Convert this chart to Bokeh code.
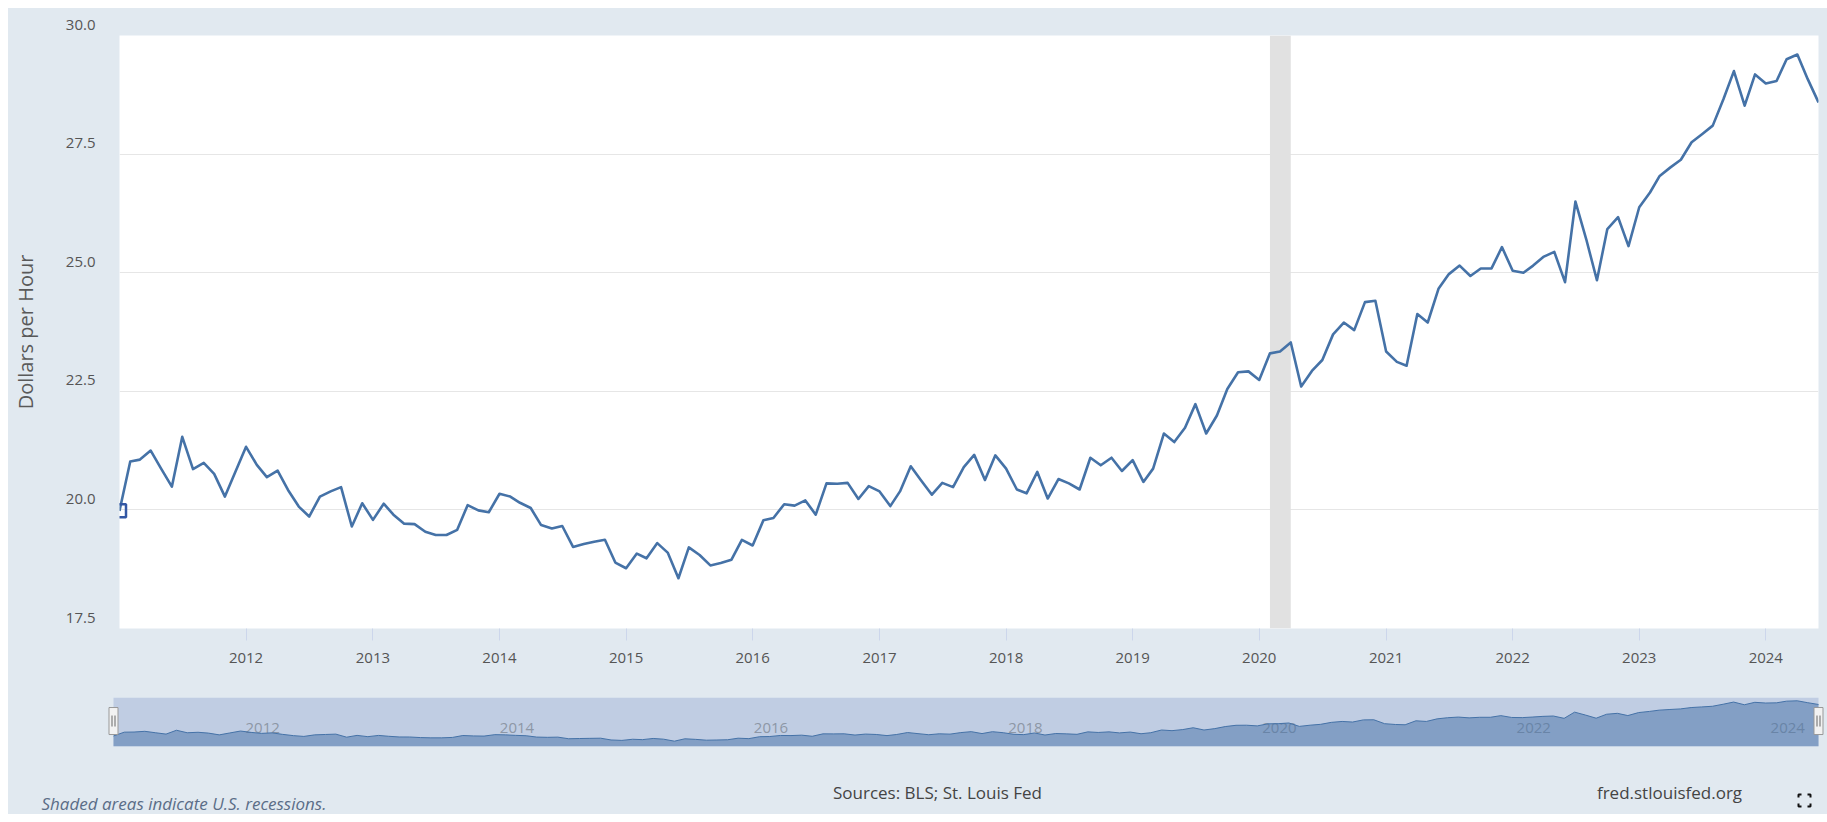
import math
import pandas as pd
from bokeh.plotting import figure
from bokeh.models import (Range1d, FixedTicker, DatetimeTickFormatter,
                          CustomJSTickFormatter)
from bokeh.layouts import column
from bokeh.embed import file_html
from bokeh.resources import INLINE
from bokeh.core.properties import value

# ---------------- data ----------------
series_start = "2011-01-01"          # monthly observations, first of month
wage = [
    19.98, 21.02, 21.06, 21.25, 20.87, 20.49, 21.54, 20.86, 20.99, 20.76, 20.28, 20.80,  # 2011
    21.33, 20.95, 20.69, 20.83, 20.42, 20.07, 19.86, 20.28, 20.39, 20.48, 19.65, 20.14,  # 2012
    19.79, 20.13, 19.90, 19.71, 19.70, 19.54, 19.47, 19.47, 19.58, 20.10, 19.99, 19.95,  # 2013
    20.34, 20.28, 20.15, 20.04, 19.68, 19.61, 19.66, 19.22, 19.28, 19.33, 19.37, 18.89,  # 2014
    18.77, 19.08, 18.98, 19.30, 19.10, 18.56, 19.21, 19.05, 18.83, 18.88, 18.95, 19.37,  # 2015
    19.25, 19.78, 19.83, 20.12, 20.09, 20.20, 19.90, 20.56, 20.55, 20.57, 20.23, 20.50,  # 2016
    20.39, 20.08, 20.39, 20.92, 20.62, 20.32, 20.57, 20.48, 20.90, 21.16, 20.63, 21.15,  # 2017
    20.87, 20.43, 20.35, 20.80, 20.24, 20.65, 20.56, 20.43, 21.10, 20.94, 21.10, 20.82,  # 2018
    21.05, 20.59, 20.87, 21.61, 21.43, 21.73, 22.23, 21.61, 21.99, 22.55, 22.90, 22.92,  # 2019
    22.74, 23.30, 23.34, 23.53, 22.60, 22.93, 23.16, 23.70, 23.95, 23.79, 24.38, 24.41,  # 2020
    23.34, 23.12, 23.04, 24.13, 23.95, 24.66, 24.97, 25.15, 24.93, 25.09, 25.09, 25.54,  # 2021
    25.04, 25.00, 25.15, 25.34, 25.44, 24.80, 26.50, 25.71, 24.84, 25.92, 26.17, 25.56,  # 2022
    26.38, 26.69, 27.04, 27.22, 27.38, 27.75, 27.92, 28.10, 28.66, 29.25, 28.52, 29.18,  # 2023
    28.99, 29.04, 29.50, 29.60, 29.08, 28.59,                                            # 2024
]
x_tick_years = list(range(2012, 2025))
y_ticks = [17.5, 20.0, 22.5, 25.0, 27.5, 30.0]
nav_label_years = [2012, 2014, 2016, 2018, 2020, 2022, 2024]
recession_start = ["2020-02-01"]
recession_end = ["2020-04-01"]
y_axis_title = "Dollars per Hour"
footer_left = "Shaded areas indicate U.S. recessions."
footer_mid = "Sources: BLS; St. Louis Fed"
footer_right = "fred.stlouisfed.org"

dates = pd.date_range(series_start, periods=len(wage), freq="MS")

# ---------------- style ----------------
W = 1819
BG = "#e1e9f0"
LINE = "#4572a7"
FONT = "Open Sans"
TICK_COLOR = "#555555"
BL, BR = 105, 9


def year_ms(y):
    return pd.Timestamp(f"{y}-01-01").value / 1e6


# ---------------- main chart ----------------
p = figure(width=W, height=672, x_axis_type="datetime",
           output_backend="svg", toolbar_location=None,
           x_range=Range1d(dates[0], dates[-1]),
           y_range=Range1d(y_ticks[0], y_ticks[-1]),
           min_border_left=BL, min_border_right=BR,
           min_border_top=27, min_border_bottom=52)
p.background_fill_color = "white"
p.border_fill_color = BG
p.outline_line_color = None

p.quad(left=[pd.Timestamp(s) for s in recession_start],
       right=[pd.Timestamp(e) for e in recession_end],
       bottom=[y_ticks[0]] * len(recession_start),
       top=[y_ticks[-1]] * len(recession_start),
       fill_color="#e1e1e1", line_color=None)

p.line(dates, wage, line_color=LINE, line_width=2.6, line_join="round")
p.scatter([dates[0]], [wage[0]], marker="square", size=13,
          fill_alpha=0, line_color="#3458a4", line_width=2.5)

xt = FixedTicker(ticks=[year_ms(y) for y in x_tick_years])
p.xaxis.ticker = xt
fmt = "%Y"
p.xaxis.formatter = DatetimeTickFormatter(
    years=fmt, months=fmt, days=fmt, hours=fmt, hourmin=fmt,
    minutes=fmt, minsec=fmt, seconds=fmt, milliseconds=fmt, microseconds=fmt)
p.xaxis.axis_line_color = None
p.xaxis.major_tick_line_color = "#ccd6eb"
p.xaxis.major_tick_out = 12
p.xaxis.major_tick_in = 0
p.xaxis.minor_tick_line_color = None
p.xaxis.major_label_standoff = 12
p.xaxis.major_label_text_font = FONT
p.xaxis.major_label_text_font_size = "15px"
p.xaxis.major_label_text_color = TICK_COLOR
p.xgrid.grid_line_color = None

yt = FixedTicker(ticks=y_ticks)
p.yaxis.ticker = yt
p.ygrid.ticker = yt
p.yaxis.formatter = CustomJSTickFormatter(code="return tick.toFixed(1) + '\\n';")
p.yaxis.axis_line_color = None
p.yaxis.major_tick_line_color = None
p.yaxis.minor_tick_line_color = None
p.yaxis.major_tick_out = 0
p.yaxis.major_label_standoff = 24
p.yaxis.major_label_text_font = FONT
p.yaxis.major_label_text_font_size = "15px"
p.yaxis.major_label_text_color = TICK_COLOR
p.yaxis.axis_label = y_axis_title
p.yaxis.axis_label_standoff = 24
p.yaxis.axis_label_text_font = FONT
p.yaxis.axis_label_text_font_size = "20px"
p.yaxis.axis_label_text_font_style = "normal"
p.yaxis.axis_label_text_color = "#595959"
p.ygrid.grid_line_color = "#e6e6e6"
p.ygrid.grid_line_width = 1

# ---------------- navigator ----------------
nav_lo, nav_hi = 17.1, 30.5
NBL, NBR = 92, 0
span_ms = (dates[-1] - dates[0]).value / 1e6
data_px = W - BL - BR
ms_per_px = span_ms / data_px
nav_x0 = dates[0] - pd.Timedelta(milliseconds=(BL - NBL) * ms_per_px)
nav_x1 = dates[-1] + pd.Timedelta(milliseconds=(BR - NBR) * ms_per_px)

nav = figure(width=W, height=80, x_axis_type="datetime",
             output_backend="svg", toolbar_location=None,
             x_range=Range1d(nav_x0, nav_x1), y_range=Range1d(nav_lo, nav_hi),
             x_axis_location=None, y_axis_location=None,
             min_border_left=NBL, min_border_right=NBR,
             min_border_top=17, min_border_bottom=14)
nav.background_fill_color = BG
nav.border_fill_color = BG
nav.outline_line_color = None
nav.xgrid.grid_line_color = None
nav.ygrid.grid_line_color = None

nav.quad(left=[dates[0]], right=[dates[-1]], bottom=[nav_lo], top=[nav_hi],
         fill_color="#c0cde3", line_color=None)
nav.text(x=[pd.Timestamp(f"{y}-01-01") for y in nav_label_years],
         y=[nav_lo + 0.37 * (nav_hi - nav_lo)] * len(nav_label_years),
         text=[str(y) for y in nav_label_years],
         x_offset=5, text_align="left", text_baseline="middle",
         text_font=value(FONT), text_font_size="15px", text_color="#8d97a6")
nav.varea(x=dates, y1=[nav_lo] * len(wage), y2=wage,
          fill_color=LINE, fill_alpha=0.5)
nav.line(dates, wage, line_color=LINE, line_width=1)

mid = nav_lo + 0.52 * (nav_hi - nav_lo)
nav.rect(x=[dates[0], dates[-1]], y=[mid, mid], width=9, height=27,
         width_units="screen", height_units="screen",
         fill_color="#f2f2f2", line_color="#999999", line_width=1)
dd = pd.Timedelta(milliseconds=1.5 * ms_per_px)
nav.scatter(x=[dates[0] - dd, dates[0] + dd, dates[-1] - dd, dates[-1] + dd],
            y=[mid] * 4, marker="dash", angle=math.pi / 2, size=11,
            line_color="#666666", line_width=1)

# ---------------- footer ----------------
FH = 54
foot = figure(width=W, height=FH, output_backend="svg", toolbar_location=None,
              x_range=Range1d(0, W), y_range=Range1d(0, FH),
              x_axis_location=None, y_axis_location=None,
              min_border_left=0, min_border_right=0,
              min_border_top=0, min_border_bottom=0)
foot.background_fill_color = BG
foot.border_fill_color = BG
foot.outline_line_color = None
foot.xgrid.grid_line_color = None
foot.ygrid.grid_line_color = None

foot.text(x=[33], y=[11], text=[footer_left], text_align="left",
          text_baseline="middle", text_font=value(FONT), text_font_size="17px",
          text_font_style="italic", text_color="#5b6d87")
foot.text(x=[929], y=[22], text=[footer_mid], text_align="center",
          text_baseline="middle", text_font=value(FONT), text_font_size="17px",
          text_color="#444444")
foot.text(x=[1661], y=[22], text=[footer_right], text_align="center",
          text_baseline="middle", text_font=value(FONT), text_font_size="17px",
          text_color="#444444")
cx, cy, r, a = 1796, 14, 6, 3
xs = [[cx - r, cx - r, cx - r + a], [cx + r - a, cx + r, cx + r],
      [cx - r, cx - r, cx - r + a], [cx + r - a, cx + r, cx + r]]
ys = [[cy + r - a, cy + r, cy + r], [cy + r, cy + r, cy + r - a],
      [cy - r + a, cy - r, cy - r], [cy - r, cy - r, cy - r + a]]
foot.multi_line(xs, ys, line_color="#111111", line_width=2)

layout = column(p, column(nav), column(foot), spacing=0,
                margin=(8, 0, 0, 8), styles={"background-color": BG})
open("out.html", "w").write(file_html(layout, INLINE))
